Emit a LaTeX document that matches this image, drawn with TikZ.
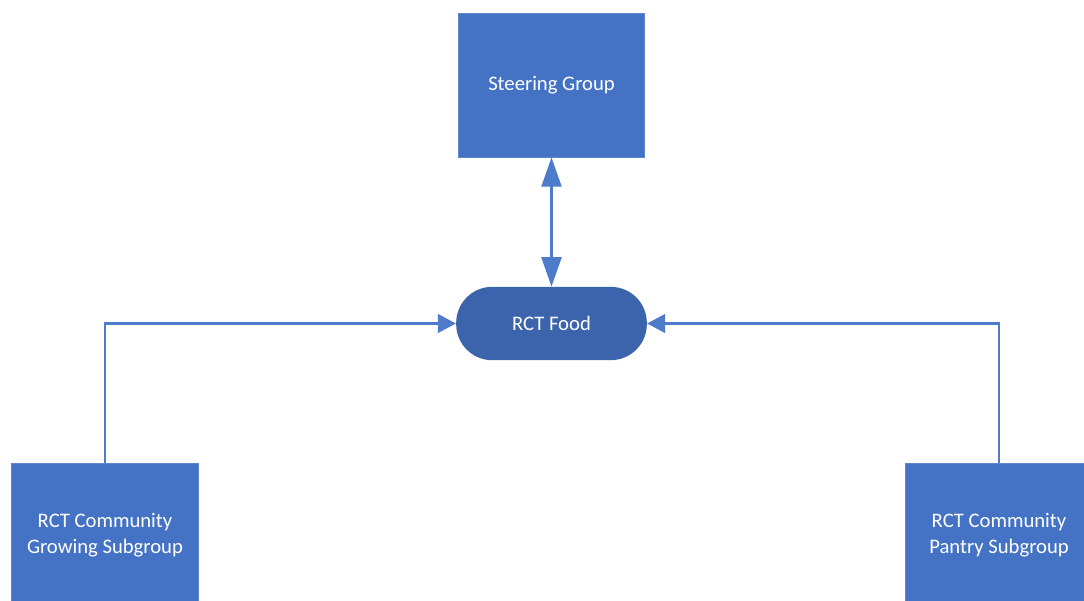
\documentclass[tikz,border=0pt]{standalone}
\usepackage{fontspec}
\setmainfont{Carlito}
\usepackage{xcolor}
\usetikzlibrary{arrows.meta,positioning}
\definecolor{boxblue}{HTML}{4472C4}
\definecolor{foodblue}{HTML}{3B64AD}
\definecolor{lineblue}{HTML}{4F7BCB}

\begin{document}
\begin{tikzpicture}[x=0.75pt,y=-0.75pt,
    groupbox/.style={fill=boxblue, draw=boxblue!85!white, line width=0.6pt, text=white,
        minimum width=140pt, minimum height=108pt, inner sep=0pt, align=center,
        font=\fontsize{15.5}{19.5}\selectfont},
    hub/.style={fill=foodblue, text=white, rounded corners=27pt,
        minimum width=143pt, minimum height=55pt, inner sep=0pt,
        font=\fontsize{15.5}{19.5}\selectfont},
    link/.style={draw=lineblue, line width=1.6pt},
    tiph/.style={-{Triangle[length=13.5pt,width=14pt]}}]
    \useasboundingbox (0,0) rectangle (1084,600);
    \node[groupbox] (steer) at (551.5,85) {Steering Group};
    \node[hub] (food) at (551.5,323.5) {RCT Food};
    \node[groupbox] (grow) at (105,535) {RCT Community\\Growing Subgroup};
    \node[groupbox] (pantry) at (999,535) {RCT Community\\Pantry Subgroup};

    \draw[link, {Triangle[length=22pt,width=15pt]}-{Triangle[length=22pt,width=15pt]}] (steer.south) -- (food.north); % two-way
    \draw[link, tiph] (grow.north) |- (food.west);
    \draw[link, tiph] (pantry.north) |- (food.east);
\end{tikzpicture}
\end{document}
